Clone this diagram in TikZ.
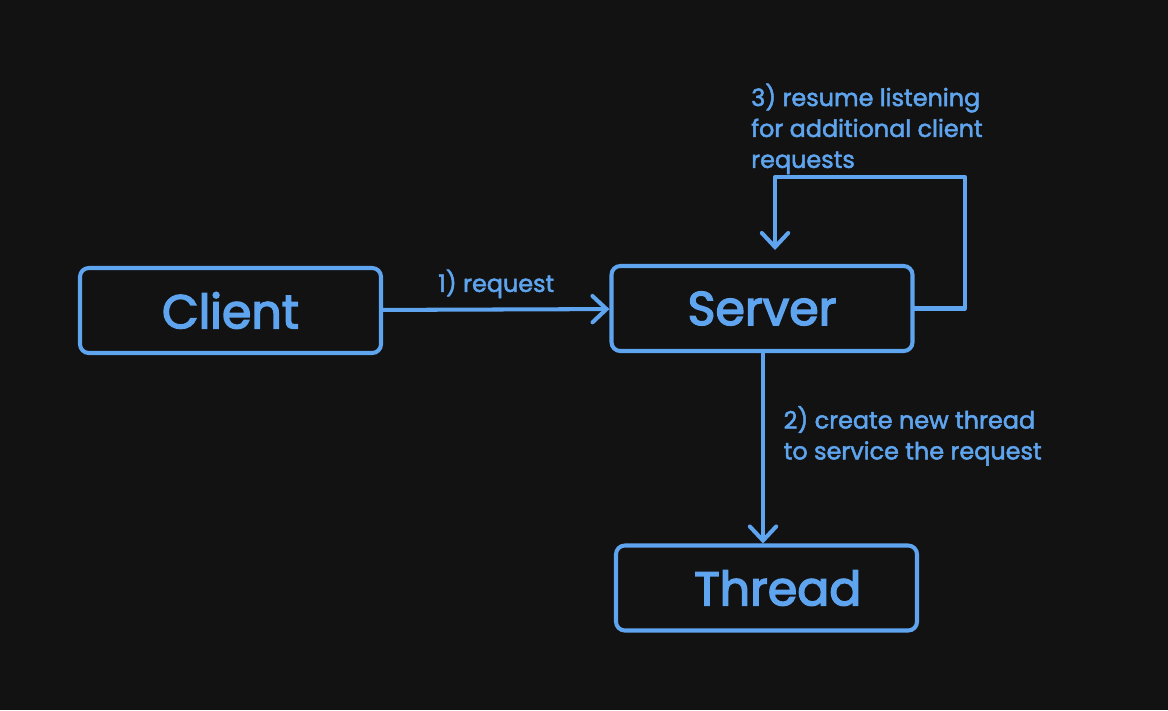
\documentclass[tikz,border=0pt]{standalone}
\usepackage{fontspec}
\setmainfont{Poppins}
\usetikzlibrary{arrows.meta}
\usetikzlibrary{calc}

\definecolor{bg}{HTML}{121212}
\definecolor{ink}{HTML}{5FA4EE}

\tikzset{
    box/.style={draw=ink, line width=2.3pt, rounded corners=5pt, minimum width=6.02cm, minimum height=1.7cm, text=ink, font=\fontsize{27}{30}\selectfont\addfontfeature{FakeBold=3}},
    link/.style={draw=ink, line width=2.3pt, line cap=round, line join=round, -{Straight Barb[length=8pt, width=15pt, line width=2.3pt, line cap=round]}},
    note/.style={text=ink, font=\fontsize{13.6}{17.6}\selectfont\addfontfeature{FakeBold=2}, align=left}
}

\begin{document}
\begin{tikzpicture}
            \fill[bg] (0,0) rectangle (23.36,-14.2);
            \useasboundingbox (0,0) rectangle (23.36,-14.2);

            \node[box] (client) at (4.61,-6.21) {Client};
            \node[box] (server) at (15.24,-6.17) {Server};
            \node[box] (thread) at (15.33,-11.76) {\hspace*{0.45cm}Thread};

            \coordinate (loopr) at (19.3,-6.17);
            \coordinate (loopl) at (15.5,-3.54);
            \coordinate (looptip) at (15.5,-5.0);

            \draw[link] (client) to node[note, above, yshift=2pt] {1) request} (server);
            \draw[link] (server.south -| 15.26,0) to (thread.north -| 15.26,0);
            \draw[link] (server.east) -- (loopr) |- (loopl) -- (looptip);

            \node[note, anchor=north west] (createlbl) at (15.55,-8.0) {2) create new thread\\to service the request};
            \node[note, anchor=north west] (resumelbl) at (14.9,-1.55) {3) resume listening\\for additional client\\requests};
        \end{tikzpicture}
\end{document}
